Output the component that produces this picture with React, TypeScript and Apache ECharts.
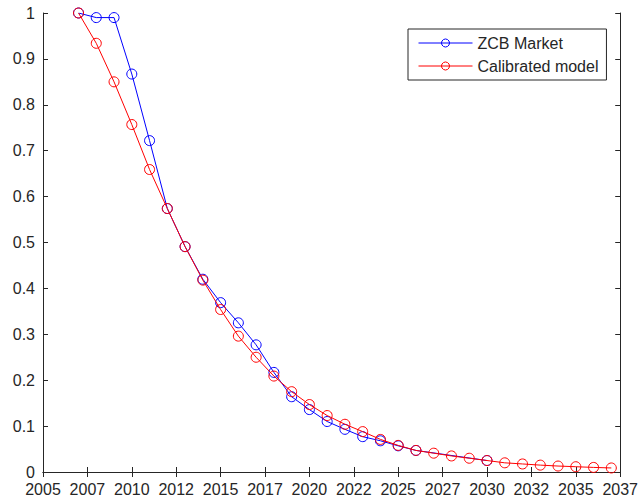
import React, { useEffect, useRef } from "react";
import * as echarts from "echarts";

const marketYears = [2007, 2008, 2009, 2010, 2011, 2012, 2013, 2014, 2015, 2016, 2017, 2018, 2019, 2020, 2021, 2022, 2023, 2024, 2025, 2026, 2030];
const marketValues = [1.0, 0.99, 0.99, 0.867, 0.722, 0.574, 0.491, 0.42, 0.369, 0.325, 0.277, 0.217, 0.164, 0.136, 0.11, 0.093, 0.077, 0.068, 0.057, 0.047, 0.025];

const modelYears = [2007, 2008, 2009, 2010, 2011, 2012, 2013, 2014, 2015, 2016, 2017, 2018, 2019, 2020, 2021, 2022, 2023, 2024, 2025, 2026, 2027, 2028, 2029, 2030, 2031, 2032, 2033, 2034, 2035, 2036, 2037];
const modelValues = [1.0, 0.934, 0.85, 0.757, 0.659, 0.574, 0.491, 0.418, 0.354, 0.296, 0.25, 0.209, 0.175, 0.147, 0.123, 0.104, 0.088, 0.071, 0.058, 0.047, 0.041, 0.035, 0.03, 0.025, 0.02, 0.0175, 0.015, 0.013, 0.0115, 0.01, 0.0088];

const seriesNames = ["ZCB Market", "Calibrated model"];

const X_MIN = 2005;
const X_MAX = 2037.5;
const X_STEP = 2.5;

export default function App() {
  const ref = useRef<HTMLDivElement>(null);
  useEffect(() => {
    if (!ref.current) return;
    const chart = echarts.init(ref.current, undefined, { renderer: "svg" });
    const axisColor = "#262626";
    const font = "Liberation Sans, Arial, sans-serif";
    const xCommon = {
      type: "value" as const,
      min: X_MIN,
      max: X_MAX,
      interval: X_STEP,
      axisLine: { show: true, lineStyle: { color: axisColor, width: 1 } },
      axisTick: { show: true, inside: true, length: 5, lineStyle: { color: axisColor } },
      splitLine: { show: false },
    };
    const yCommon = {
      type: "value" as const,
      min: 0,
      max: 1,
      interval: 0.1,
      axisLine: { show: true, lineStyle: { color: axisColor, width: 1 } },
      axisTick: { show: true, inside: true, length: 5, lineStyle: { color: axisColor } },
      splitLine: { show: false },
    };
    const mkSeries = (name: string, xs: number[], ys: number[], color: string, z: number) => ({
      name,
      type: "line",
      data: xs.map((x, i) => [x, ys[i]]),
      symbol: "circle",
      symbolSize: 10,
      showAllSymbol: true,
      color,
      lineStyle: { color, width: 1 },
      itemStyle: { color: "rgba(255,255,255,0)", borderColor: color, borderWidth: 1 },
      emphasis: { disabled: true },
      z,
    });
    chart.setOption({
      animation: false,
      backgroundColor: "#ffffff",
      grid: { left: 43, right: 19, top: 13, bottom: 29, containLabel: false },
      legend: {
        orient: "vertical",
        left: 408,
        top: 29,
        width: 197,
        padding: [6, 8, 6, 10],
        itemGap: 7,
        itemWidth: 54,
        itemHeight: 10,
        borderColor: axisColor,
        borderWidth: 1,
        backgroundColor: "#ffffff",
        lineStyle: { width: 1 },
        itemStyle: { borderWidth: 1 },
        textStyle: { fontFamily: font, fontSize: 16, color: axisColor },
        data: seriesNames,
      },
      xAxis: [
        {
          ...xCommon,
          position: "bottom",
          axisLabel: {
            show: true,
            margin: 9,
            color: axisColor,
            fontFamily: font,
            fontSize: 16,
            showMinLabel: true,
            showMaxLabel: true,
            formatter: (v: number) => String(Math.floor(v + 1e-9)),
          },
        },
        { ...xCommon, position: "top", axisLabel: { show: false } },
      ],
      yAxis: [
        {
          ...yCommon,
          position: "left",
          axisLabel: {
            show: true,
            margin: 8,
            color: axisColor,
            fontFamily: font,
            fontSize: 16,
            formatter: (v: number) => String(Math.round(v * 10) / 10),
          },
        },
        { ...yCommon, position: "right", axisLabel: { show: false } },
      ],
      series: [
        mkSeries(seriesNames[0], marketYears, marketValues, "#0000ff", 2),
        mkSeries(seriesNames[1], modelYears, modelValues, "#ff0000", 3),
      ],
    });
    return () => chart.dispose();
  }, []);
  return (
    <div
      ref={ref}
      style={{ position: "fixed", left: 0, top: 0, width: 641, height: 501 }}
    />
  );
}
